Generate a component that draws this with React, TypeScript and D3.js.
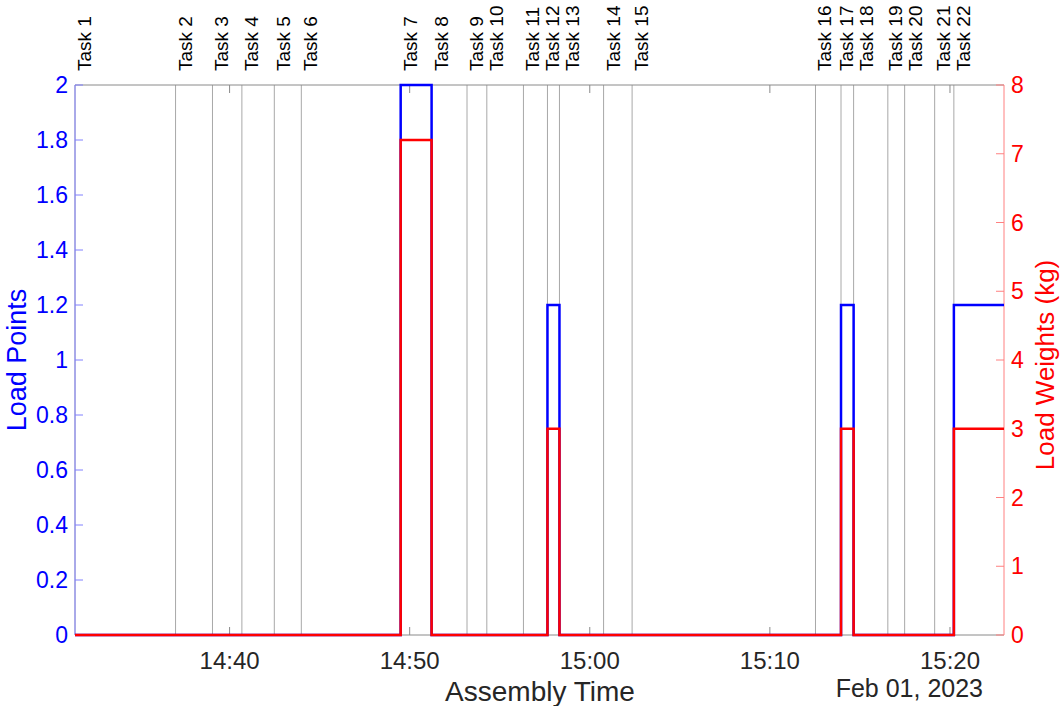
import React from "react";
import * as d3 from "d3";

// Task start times (Feb 01, 2023)
const taskNames = [
  "Task 1", "Task 2", "Task 3", "Task 4", "Task 5", "Task 6", "Task 7", "Task 8",
  "Task 9", "Task 10", "Task 11", "Task 12", "Task 13", "Task 14", "Task 15",
  "Task 16", "Task 17", "Task 18", "Task 19", "Task 20", "Task 21", "Task 22",
];
const taskTimes = [
  "14:31:25", "14:37:00", "14:39:03", "14:40:41", "14:42:29", "14:43:59", "14:49:30", "14:51:13",
  "14:53:11", "14:54:17", "14:56:19", "14:57:39", "14:58:19", "15:00:46", "15:02:21",
  "15:12:32", "15:13:57", "15:14:39", "15:16:33", "15:17:29", "15:19:09", "15:20:13",
];
// Value held from each task's start until the next task starts
const loadPoints = [0, 0, 0, 0, 0, 0, 2, 0, 0, 0, 0, 1.2, 0, 0, 0, 0, 1.2, 0, 0, 0, 0, 1.2];
const loadWeights = [0, 0, 0, 0, 0, 0, 7.2, 0, 0, 0, 0, 3, 0, 0, 0, 0, 3, 0, 0, 0, 0, 3];
const endTime = "15:23:00";

const xTickTimes = ["14:40:00", "14:50:00", "15:00:00", "15:10:00", "15:20:00"];
const pointTicks = [0, 0.2, 0.4, 0.6, 0.8, 1, 1.2, 1.4, 1.6, 1.8, 2];
const weightTicks = [0, 1, 2, 3, 4, 5, 6, 7, 8];

const parseT = (s: string) => {
  const [h, m, sec] = s.split(":").map(Number);
  return new Date(2023, 1, 1, h, m, sec);
};

const W = 1063;
const H = 706;
const L = 75;
const R = 1004;
const T = 85;
const B = 635;
const FONT = "'Liberation Sans', Arial, Helvetica, sans-serif";

// Spread rotated task labels so neighbouring ones do not overlap
function spreadLabels(xs: number[], offset: number, minGap: number) {
  const pos = xs.map((v) => v + offset);
  for (let iter = 0; iter < 50; iter++) {
    let moved = false;
    for (let i = 1; i < pos.length; i++) {
      const gap = pos[i] - pos[i - 1];
      if (gap < minGap) {
        const d = (minGap - gap) / 2;
        pos[i - 1] -= d;
        pos[i] += d;
        moved = true;
      }
    }
    if (!moved) break;
  }
  return pos;
}

export default function App() {
  const times = taskTimes.map(parseT);
  const tEnd = parseT(endTime);
  const x = d3.scaleTime().domain([times[0], tEnd]).range([L, R]);
  const yP = d3.scaleLinear().domain([0, 2]).range([B, T]);
  const yW = d3.scaleLinear().domain([0, 8]).range([B, T]);
  const fmt = d3.timeFormat("%H:%M");

  const stepPts = (vals: number[]) =>
    [...times.map((t, i) => [t, vals[i]] as [Date, number]), [tEnd, vals[vals.length - 1]] as [Date, number]];

  const pointsLine = d3
    .line<[Date, number]>()
    .x((d) => x(d[0]))
    .y((d) => yP(d[1]))
    .curve(d3.curveStepAfter)(stepPts(loadPoints));
  const weightsLine = d3
    .line<[Date, number]>()
    .x((d) => x(d[0]))
    .y((d) => yW(d[1]))
    .curve(d3.curveStepAfter)(stepPts(loadWeights));

  const labelCenters = spreadLabels(times.map((t) => x(t)), 9, 20);

  return (
    <svg
      width={W}
      height={H}
      style={{ position: "absolute", left: 0, top: 0, background: "#fff" }}
      fontFamily={FONT}
    >
      {/* task markers */}
      {times.map((t, i) => (
        <g key={taskNames[i]}>
          <line x1={x(t)} x2={x(t)} y1={T} y2={B} stroke="#a8a8a8" strokeWidth={1} />
          <text
            transform={`translate(${labelCenters[i] + 7},${71}) rotate(-90)`}
            fontSize={19}
            fill="#000"
          >
            {taskNames[i]}
          </text>
        </g>
      ))}

      {/* box top / bottom */}
      <line x1={L} x2={R} y1={T} y2={T} stroke="#8a8a8a" strokeWidth={1} />
      <line x1={L} x2={R} y1={B} y2={B} stroke="#8a8a8a" strokeWidth={1} />

      {/* x ticks */}
      {xTickTimes.map((s) => {
        const xx = x(parseT(s));
        return (
          <g key={s}>
            <line x1={xx} x2={xx} y1={B} y2={B - 8} stroke="#8a8a8a" />
            <line x1={xx} x2={xx} y1={T} y2={T + 8} stroke="#8a8a8a" />
            <text x={xx} y={669} textAnchor="middle" fontSize={24} fill="#262626">
              {fmt(parseT(s))}
            </text>
          </g>
        );
      })}
      <text x={540} y={701} textAnchor="middle" fontSize={28} fill="#262626">
        Assembly Time
      </text>
      <text x={983} y={697} textAnchor="end" fontSize={25} fill="#262626">
        Feb 01, 2023
      </text>

      {/* left axis */}
      <line x1={L} x2={L} y1={T} y2={B} stroke="#8080ff" strokeWidth={1} />
      {pointTicks.map((v) => (
        <g key={"p" + v}>
          <line x1={L} x2={L + 8} y1={yP(v)} y2={yP(v)} stroke="#8080ff" />
          <text x={68} y={yP(v) + 8} textAnchor="end" fontSize={23} fill="#0000ff">
            {String(v)}
          </text>
        </g>
      ))}
      <text
        transform={`translate(${26},${360}) rotate(-90)`}
        textAnchor="middle"
        fontSize={27}
        fill="#0000ff"
      >
        Load Points
      </text>

      {/* right axis */}
      <line x1={R} x2={R} y1={T} y2={B} stroke="#ff8080" strokeWidth={1} />
      {weightTicks.map((v) => (
        <g key={"w" + v}>
          <line x1={R} x2={R - 8} y1={yW(v)} y2={yW(v)} stroke="#ff8080" />
          <text x={1011} y={yW(v) + 8} textAnchor="start" fontSize={23} fill="#ff0000">
            {String(v)}
          </text>
        </g>
      ))}
      <text
        transform={`translate(${1054},${365}) rotate(-90)`}
        textAnchor="middle"
        fontSize={26}
        fill="#ff0000"
      >
        Load Weights (kg)
      </text>

      {/* series */}
      <path d={pointsLine ?? ""} fill="none" stroke="#0000ff" strokeWidth={2.5} />
      <path d={weightsLine ?? ""} fill="none" stroke="#ff0000" strokeWidth={2.5} />
    </svg>
  );
}
